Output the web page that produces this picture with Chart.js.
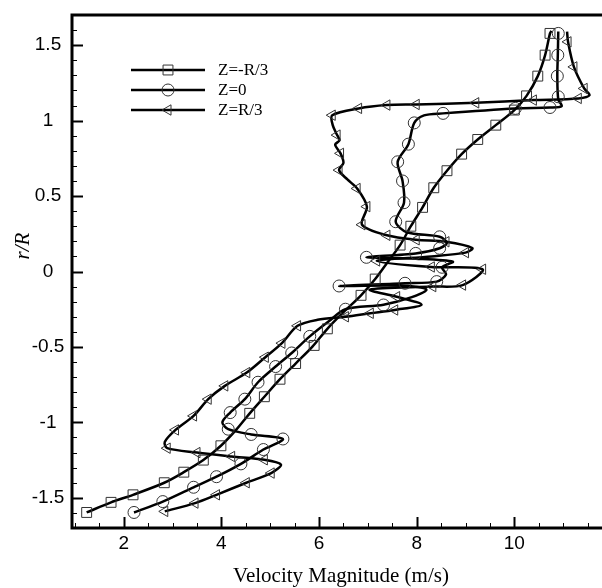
<!DOCTYPE html>
<html>
<head>
<meta charset="utf-8">
<script src="https://cdn.jsdelivr.net/npm/chart.js@4"></script>
<style>
  html, body { margin: 0; padding: 0; overflow: hidden; background: #fff; }
</style>
</head>
<body>
<canvas id="c" width="620" height="588"></canvas>
<script>
// tick labels
const xTicks = [2, 4, 6, 8, 10];
const yTicks = [-1.5, -1, -0.5, 0, 0.5, 1, 1.5];
const seriesNames = ["Z=-R/3", "Z=0", "Z=R/3"];

// Z=-R/3 : curve [velocity, r/R] and marker points
const zm3Path = [[1.24,-1.597],[1.74,-1.53],[2.19,-1.48],[2.83,-1.40],[3.23,-1.33],[3.63,-1.25],[3.99,-1.155],[4.3,-1.05],
  [4.58,-0.94],[4.88,-0.83],[5.20,-0.714],[5.52,-0.61],[5.86,-0.50],[6.17,-0.38],[6.5,-0.27],[6.86,-0.158],[7.15,-0.05],
  [7.4,0.06],[7.66,0.175],[7.88,0.30],[8.12,0.425],[8.35,0.555],[8.62,0.668],[8.92,0.778],[9.25,0.875],[9.62,0.97],
  [10.0,1.07],[10.25,1.164],[10.48,1.295],[10.63,1.434],[10.73,1.578],[10.76,1.595]];
const zm3Marks = [[1.24,-1.597],[1.74,-1.53],[2.19,-1.48],[2.83,-1.40],[3.23,-1.33],[3.63,-1.25],[3.99,-1.155],
  [4.58,-0.94],[4.88,-0.83],[5.20,-0.714],[5.52,-0.61],[5.90,-0.49],[6.17,-0.38],[6.86,-0.158],[7.15,-0.05],
  [7.66,0.175],[7.88,0.30],[8.12,0.425],[8.35,0.555],[8.62,0.668],[8.92,0.778],[9.25,0.875],[9.62,0.97],
  [10.0,1.07],[10.25,1.164],[10.48,1.295],[10.63,1.434],[10.73,1.578]];

// Z=0
const z0Path = [[2.21,-1.597],[2.80,-1.525],[3.43,-1.43],[3.90,-1.36],[4.40,-1.275],[4.86,-1.18],[5.26,-1.11],[4.61,-1.08],
  [4.14,-1.045],[4.02,-1.0],[4.18,-0.935],[4.48,-0.846],[4.75,-0.734],[5.11,-0.63],[5.44,-0.54],[5.81,-0.43],[6.2,-0.33],
  [6.54,-0.25],[7.32,-0.22],[7.9,-0.17],[8.2,-0.12],[7.76,-0.095],[6.41,-0.096],[7.76,-0.078],[8.41,-0.067],[8.6,-0.02],
  [8.52,0.028],[8.74,0.065],[7.98,0.085],[6.97,0.094],[7.98,0.12],[8.47,0.154],[8.62,0.19],[8.47,0.23],[7.8,0.26],
  [7.57,0.33],[7.74,0.456],[7.71,0.60],[7.61,0.727],[7.83,0.844],[7.95,0.985],[8.15,1.035],[8.54,1.048],[10.02,1.081],
  [10.73,1.087],[10.97,1.096],[10.90,1.14],[10.88,1.295],[10.89,1.434],[10.90,1.59]];
const z0Marks = [[2.21,-1.597],[2.80,-1.525],[3.43,-1.43],[3.90,-1.36],[4.40,-1.275],[4.86,-1.18],[5.26,-1.11],[4.61,-1.08],
  [4.14,-1.045],[4.18,-0.935],[4.48,-0.846],[4.75,-0.734],[5.11,-0.63],[5.44,-0.54],[5.81,-0.43],[6.54,-0.25],[7.32,-0.222],
  [6.41,-0.096],[7.76,-0.078],[8.41,-0.067],[8.52,0.028],[6.97,0.094],[7.98,0.12],[8.47,0.154],[8.47,0.23],[7.57,0.33],
  [7.74,0.456],[7.71,0.60],[7.61,0.727],[7.83,0.844],[7.95,0.985],[8.54,1.048],[10.02,1.081],[10.73,1.087],[10.90,1.158],
  [10.88,1.295],[10.89,1.434],[10.90,1.578]];

// Z=R/3
const zp3Path = [[2.84,-1.59],[3.46,-1.535],[3.90,-1.48],[4.51,-1.40],[5.02,-1.336],[5.22,-1.28],[4.88,-1.248],[4.21,-1.226],
  [3.50,-1.20],[2.89,-1.171],[2.84,-1.13],[3.06,-1.05],[3.43,-0.957],[3.73,-0.846],[4.07,-0.758],[4.52,-0.67],[4.90,-0.568],
  [5.24,-0.475],[5.56,-0.36],[5.97,-0.32],[6.54,-0.30],[7.05,-0.277],[7.55,-0.255],[8.1,-0.22],[7.59,-0.167],[7.04,-0.12],
  [8.33,-0.10],[8.94,-0.09],[9.35,0.015],[8.30,0.03],[7.18,0.07],[8.3,0.1],[9.0,0.125],[9.14,0.155],[8.6,0.197],[7.99,0.21],
  [7.39,0.24],[6.88,0.31],[6.98,0.43],[6.78,0.55],[6.58,0.61],[6.41,0.672],[6.5,0.72],[6.44,0.783],[6.33,0.84],[6.42,0.87],
  [6.37,0.904],[6.28,0.97],[6.27,1.036],[6.81,1.081],[7.39,1.103],[7.99,1.107],[9.21,1.118],[10.39,1.136],[11.31,1.147],
  [11.54,1.169],[11.43,1.213],[11.22,1.356],[11.10,1.522],[11.08,1.59]];
const zp3Marks = [[2.84,-1.59],[3.46,-1.535],[3.90,-1.48],[4.51,-1.40],[5.02,-1.336],[4.88,-1.248],[4.21,-1.226],[3.50,-1.20],
  [2.89,-1.171],[3.06,-1.05],[3.43,-0.957],[3.73,-0.846],[4.07,-0.758],[4.52,-0.67],[4.90,-0.568],[5.24,-0.475],[5.56,-0.36],
  [6.54,-0.30],[7.05,-0.277],[7.55,-0.255],[7.59,-0.167],[8.33,-0.10],[8.94,-0.09],[9.35,0.015],[8.30,0.03],[7.18,0.07],
  [9.0,0.125],[8.6,0.197],[7.99,0.21],[7.39,0.24],[6.88,0.31],[6.98,0.43],[6.78,0.55],[6.41,0.672],[6.44,0.783],[6.37,0.904],
  [6.27,1.036],[6.81,1.081],[7.39,1.103],[7.99,1.107],[9.21,1.118],[10.39,1.136],[11.31,1.147],[11.43,1.213],[11.22,1.356],
  [11.10,1.522]];

const toXY = arr => arr.map(p => ({x: p[0], y: p[1]}));

const styles = [
  {pointStyle: "rect", radius: 7, rotation: 0},
  {pointStyle: "circle", radius: 6, rotation: 0},
  {pointStyle: "triangle", radius: 6, rotation: -90},
];

function lineSet(path) {
  return {data: toXY(path), showLine: true, borderColor: "#000", borderWidth: 2.5,
    pointRadius: 0, tension: 0.3, fill: false, order: 2};
}
function markSet(marks, st) {
  return {data: toXY(marks), showLine: false, pointStyle: st.pointStyle, pointRadius: st.radius,
    pointRotation: st.rotation, pointBorderColor: "#333", pointBorderWidth: 1,
    pointBackgroundColor: "rgba(0,0,0,0)", order: 1};
}

// frame, inward ticks, labels, titles and legend (tecplot look)
const decor = {
  id: "decor",
  afterDraw(chart) {
    const ctx = chart.ctx, a = chart.chartArea;
    const x = chart.scales.x, y = chart.scales.y;
    ctx.save();
    ctx.strokeStyle = "#000";
    // minor + major ticks, bottom
    for (let v = 1; v <= 12.001; v += 0.5) {
      const px = Math.round(x.getPixelForValue(v)) + 0.5;
      const major = Math.abs(v / 2 - Math.round(v / 2)) < 1e-6;
      ctx.lineWidth = major ? 2 : 1;
      ctx.beginPath(); ctx.moveTo(px, a.bottom); ctx.lineTo(px, a.bottom - (major ? 11 : 5)); ctx.stroke();
    }
    // left
    for (let i = -16; i <= 16; i++) {
      const v = i / 10;
      const py = Math.round(y.getPixelForValue(v)) + 0.5;
      const major = i % 5 === 0;
      ctx.lineWidth = major ? 2 : 1;
      ctx.beginPath(); ctx.moveTo(a.left, py); ctx.lineTo(a.left + (major ? 11 : 5), py); ctx.stroke();
    }
    // frame
    ctx.lineWidth = 3;
    ctx.strokeRect(a.left, a.top, a.right - a.left, a.bottom - a.top);

    ctx.fillStyle = "#000";
    ctx.font = '19px "Liberation Sans", Arial, sans-serif';
    ctx.textAlign = "center";
    ctx.textBaseline = "alphabetic";
    xTicks.forEach(v => ctx.fillText(String(v), x.getPixelForValue(v), 549));
    ctx.textBaseline = "middle";
    yTicks.forEach(v => ctx.fillText(String(v), 48, y.getPixelForValue(v)));

    ctx.font = '21px "Liberation Serif", "Times New Roman", serif';
    ctx.textBaseline = "alphabetic";
    ctx.fillText("Velocity Magnitude (m/s)", 341, 582);
    ctx.save();
    ctx.translate(29, 246);
    ctx.rotate(-Math.PI / 2);
    ctx.font = 'italic 21px "Liberation Serif", "Times New Roman", serif';
    ctx.fillText("r/R", 0, 0);
    ctx.restore();

    // legend
    ctx.font = '17px "Liberation Serif", "Times New Roman", serif';
    ctx.textAlign = "left";
    ctx.textBaseline = "middle";
    seriesNames.forEach((name, i) => {
      const ly = 70 + i * 20;
      ctx.lineWidth = 2.5;
      ctx.strokeStyle = "#000";
      ctx.beginPath(); ctx.moveTo(131, ly); ctx.lineTo(205, ly); ctx.stroke();
      ctx.lineWidth = 1;
      ctx.strokeStyle = "#333";
      ctx.fillStyle = "rgba(0,0,0,0)";
      Chart.helpers.drawPoint(ctx, {pointStyle: styles[i].pointStyle, radius: styles[i].radius,
        rotation: styles[i].rotation, borderWidth: 1}, 168, ly);
      ctx.fillStyle = "#000";
      ctx.fillText(name, 218, ly + 1);
    });
    ctx.restore();
  }
};

new Chart(document.getElementById("c"), {
  type: "scatter",
  data: {
    datasets: [
      lineSet(zm3Path), markSet(zm3Marks, styles[0]),
      lineSet(z0Path), markSet(z0Marks, styles[1]),
      lineSet(zp3Path), markSet(zp3Marks, styles[2]),
    ],
  },
  options: {
    responsive: false,
    animation: false,
    devicePixelRatio: 1,
    layout: {padding: {left: 72, right: 2, top: 15, bottom: 60}},
    scales: {
      x: {type: "linear", min: 0.94, max: 12, display: false},
      y: {type: "linear", min: -1.7, max: 1.7, display: false},
    },
    plugins: {legend: {display: false}, tooltip: {enabled: false}},
  },
  plugins: [decor],
});
</script>
</body>
</html>
